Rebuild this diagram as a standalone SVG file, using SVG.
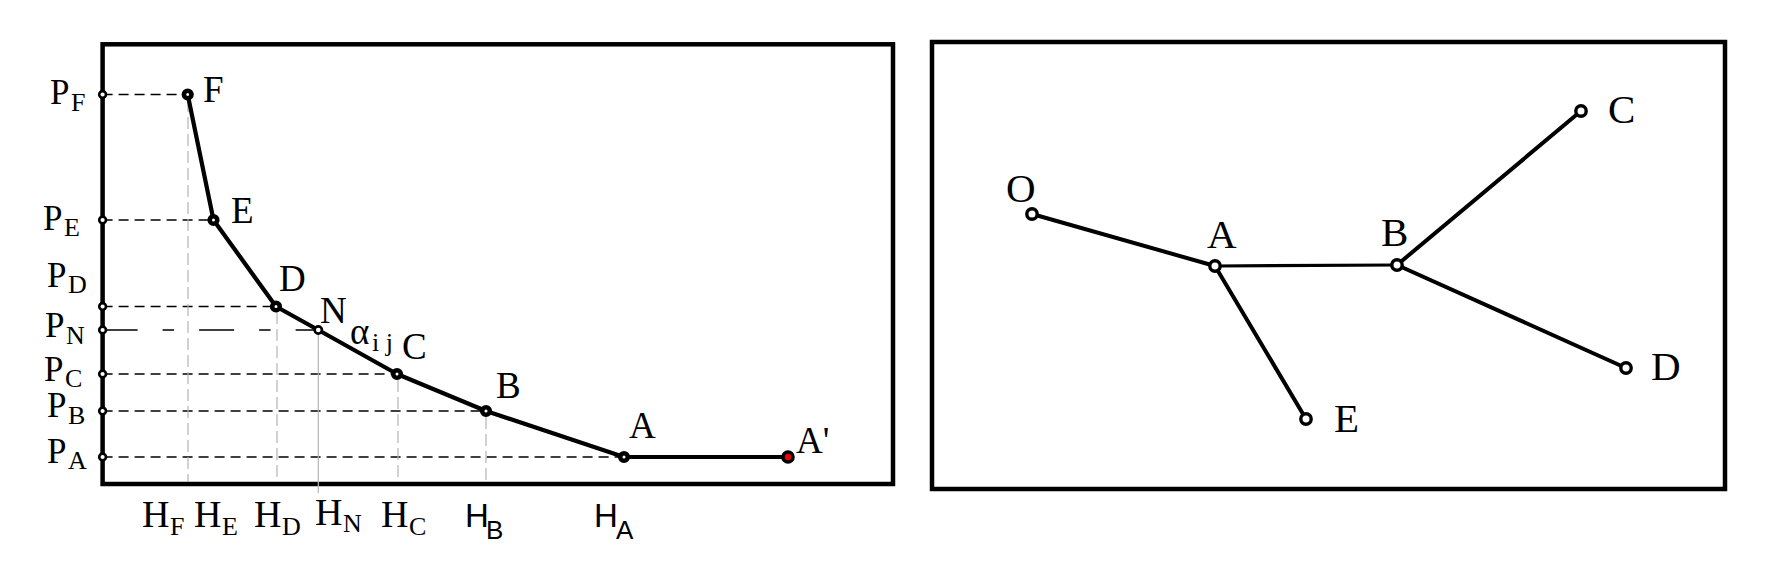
<svg xmlns="http://www.w3.org/2000/svg" width="1776" height="567" viewBox="0 0 1776 567">
<style>
.frame{fill:none;stroke:#000;stroke-width:4.5}
.curve{fill:none;stroke:#000;stroke-width:4.2;stroke-linejoin:round}
.hd{fill:none;stroke:#000;stroke-width:1.5;stroke-dasharray:10 6}
.hdn{fill:none;stroke:#000;stroke-width:1.5;stroke-dasharray:35 25 11.5 25}
.vd{fill:none;stroke:#b4b4b4;stroke-width:1.2;stroke-dasharray:12 5}
.vs{fill:none;stroke:#b4b4b4;stroke-width:1.2}
.big{fill:#fff;stroke:#000;stroke-width:4.6}
.red{fill:#e00;stroke:#000;stroke-width:3.6}
.tick{fill:#fff;stroke:#000;stroke-width:2.6}
.edge{fill:none;stroke:#000;stroke-width:4;stroke-linecap:round}
.node{fill:#fff;stroke:#000;stroke-width:3.4}
.t{font-family:"Liberation Serif","Times New Roman",serif;font-size:37px;fill:#000}
.tp{font-family:"Liberation Serif","Times New Roman",serif;font-size:35px;fill:#000}
.th{font-family:"Liberation Serif","Times New Roman",serif;font-size:38px;fill:#000}
.s{font-size:26px}
.ts{font-family:"Liberation Sans",Arial,sans-serif;font-size:33px;fill:#000}
.ss{font-size:26px}
.tr{font-family:"Liberation Serif","Times New Roman",serif;font-size:41px;fill:#000}
</style>

<!-- Left panel -->
<g id="left-frame">
  <rect class="frame" x="102.6" y="44.3" width="790.4" height="439.7"/>
</g>

<g id="guides">
  <line class="hd" x1="102.6" y1="94.5" x2="187.7" y2="94.5"/>
  <line class="hd" x1="102.6" y1="220" x2="213.5" y2="220"/>
  <line class="hd" x1="102.6" y1="306.5" x2="276" y2="306.5"/>
  <line class="hdn" x1="102.6" y1="330" x2="318.3" y2="330"/>
  <line class="hd" x1="102.6" y1="374" x2="397" y2="374"/>
  <line class="hd" x1="102.6" y1="411" x2="486" y2="411"/>
  <line class="hd" x1="102.6" y1="457" x2="624" y2="457"/>
  <line class="vd" x1="188" y1="100" x2="188" y2="482"/>
  <line class="vd" x1="277" y1="312" x2="277" y2="482"/>
  <line class="vs" x1="318.3" y1="334" x2="318.3" y2="493"/>
  <line class="vd" x1="398" y1="380" x2="398" y2="482"/>
  <line class="vd" x1="486" y1="417" x2="486" y2="482"/>
</g>

<g id="connectors">
  <polyline class="curve" points="187.7,94.5 213.5,220 276,306.5 318.3,330 397,374 486,411 624,457 788,457"/>
  <line class="edge" x1="1032" y1="214" x2="1215" y2="266"/>
  <line class="edge" x1="1215" y1="266" x2="1397" y2="265" style="stroke-width:3.2"/>
  <line class="edge" x1="1215" y1="266" x2="1306" y2="419"/>
  <line class="edge" x1="1397" y1="265" x2="1581" y2="111"/>
  <line class="edge" x1="1397" y1="265" x2="1626" y2="368"/>
</g>

<g id="axis-ticks">
  <circle class="tick" cx="102.6" cy="94.5" r="3.4"/>
  <circle class="tick" cx="102.6" cy="220" r="3.4"/>
  <circle class="tick" cx="102.6" cy="306.5" r="3.4"/>
  <circle class="tick" cx="102.6" cy="330" r="3.4"/>
  <circle class="tick" cx="102.6" cy="374" r="3.4"/>
  <circle class="tick" cx="102.6" cy="411" r="3.4"/>
  <circle class="tick" cx="102.6" cy="457" r="3.4"/>
</g>

<g id="node-F"><circle class="big" cx="187.7" cy="94.5" r="3.8"/><text class="t" x="203" y="102">F</text></g>
<g id="node-E"><circle class="big" cx="213.5" cy="220" r="3.8"/><text class="t" x="231" y="223">E</text></g>
<g id="node-D"><circle class="big" cx="276" cy="306.5" r="3.8"/><text class="t" x="279" y="291">D</text></g>
<g id="node-N"><circle class="tick" cx="318.3" cy="330" r="3.6"/><text class="t" x="320" y="323">N</text></g>
<g id="label-alpha"><text class="t" x="350" y="344">α<tspan class="s" x="372" y="351">i j</tspan></text></g>
<g id="node-C"><circle class="big" cx="397" cy="374" r="3.8"/><text class="t" x="402" y="359">C</text></g>
<g id="node-B"><circle class="big" cx="486" cy="411" r="3.8"/><text class="t" x="496" y="398">B</text></g>
<g id="node-A"><circle class="big" cx="624" cy="457" r="3.8"/><text class="t" x="629" y="438">A</text></g>
<g id="node-A-prime"><circle class="red" cx="788" cy="457" r="5"/><text class="t" x="796" y="453">A'</text></g>

<g id="p-labels">
  <text class="tp" x="50" y="104">P<tspan class="s" x="71" y="111">F</tspan></text>
  <text class="tp" x="43" y="230">P<tspan class="s" x="64" y="236">E</tspan></text>
  <text class="tp" x="47" y="287">P<tspan class="s" x="68" y="293">D</tspan></text>
  <text class="tp" x="45" y="337">P<tspan class="s" x="66" y="344">N</tspan></text>
  <text class="tp" x="44" y="381">P<tspan class="s" x="65" y="387">C</tspan></text>
  <text class="tp" x="47" y="417">P<tspan class="s" x="68" y="424">B</tspan></text>
  <text class="tp" x="47" y="463">P<tspan class="s" x="68" y="469">A</tspan></text>
</g>

<g id="h-labels">
  <text class="th" x="142" y="527">H<tspan class="s" x="170" y="535">F</tspan></text>
  <text class="th" x="194" y="527">H<tspan class="s" x="222" y="535">E</tspan></text>
  <text class="th" x="254" y="527">H<tspan class="s" x="282" y="535">D</tspan></text>
  <text class="th" x="315" y="525">H<tspan class="s" x="343" y="532">N</tspan></text>
  <text class="th" x="381" y="527">H<tspan class="s" x="409" y="535">C</tspan></text>
  <text class="ts" x="465" y="527">H<tspan class="ss" x="486" y="539">B</tspan></text>
  <text class="ts" x="594" y="527">H<tspan class="ss" x="616" y="539">A</tspan></text>
</g>

<!-- Right panel -->
<g id="right-frame">
  <rect class="frame" x="932" y="42" width="793" height="447"/>
</g>
<g id="tree-O"><circle class="node" cx="1032" cy="214" r="5.2"/><text class="tr" x="1006" y="202">O</text></g>
<g id="tree-A"><circle class="node" cx="1215" cy="266" r="5.2"/><text class="tr" x="1207" y="248">A</text></g>
<g id="tree-B"><circle class="node" cx="1397" cy="265" r="5.2"/><text class="tr" x="1381" y="246">B</text></g>
<g id="tree-C"><circle class="node" cx="1581" cy="111" r="5.2"/><text class="tr" x="1608" y="123">C</text></g>
<g id="tree-D"><circle class="node" cx="1626" cy="368" r="5.2"/><text class="tr" x="1651" y="380">D</text></g>
<g id="tree-E"><circle class="node" cx="1306" cy="419" r="5.2"/><text class="tr" x="1334" y="432">E</text></g>
</svg>
